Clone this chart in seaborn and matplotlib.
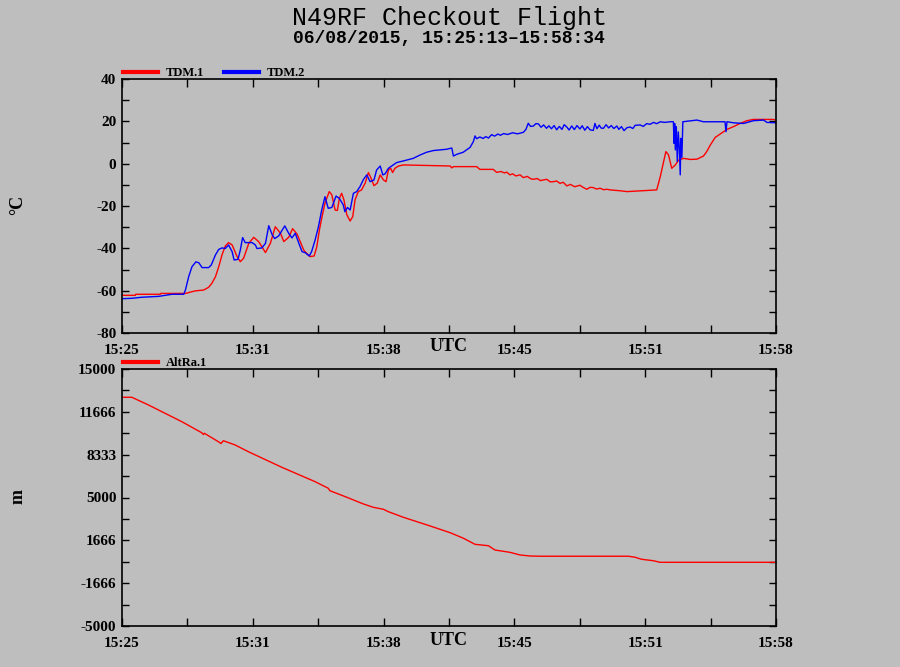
import matplotlib
matplotlib.use("Agg")
import matplotlib.pyplot as plt
import numpy as np
import seaborn as sns

# seconds since 15:25:13 (flight window 15:25:13 - 15:58:34)
tdm1_t = [0, 41, 42, 117, 118, 194, 224, 250, 265, 275, 286, 296, 306, 316, 326, 337,
          352, 362, 372, 388, 403, 418, 439, 454, 469, 485, 495, 510, 522, 536, 556,
          560, 575, 588, 596, 604, 611, 621, 634, 642, 652, 659, 665, 672, 679, 688,
          698, 706, 713, 723, 733, 744, 754, 762, 771, 781, 790, 800, 808, 815, 822,
          828, 835, 846, 861, 917, 1004, 1009, 1014, 1085, 1095, 1136, 1146, 1160,
          1170, 1177, 1187, 1195, 1205, 1218, 1228, 1240, 1250, 1259, 1270, 1280,
          1289, 1300, 1310, 1320, 1330, 1340, 1350, 1361, 1372, 1385, 1401, 1412,
          1422, 1432, 1442, 1452, 1463, 1473, 1483, 1494, 1510, 1524, 1545, 1636,
          1647, 1657, 1664, 1672, 1682, 1693, 1703, 1718, 1738, 1759, 1779, 1789,
          1800, 1815, 1830, 1851, 1871, 1891, 1912, 1932, 1993, 2001]
tdm1_v = [-62.2, -62.2, -61.7, -61.7, -61.3, -61.3, -60.1, -59.7, -58.4, -56.5, -53.4,
          -48.7, -43.1, -38.9, -37.3, -38.4, -43.9, -46.3, -44.7, -37.6, -34.8, -36.8,
          -42.0, -37.6, -29.8, -32.9, -36.8, -34.8, -30.7, -33.4, -40.8,
          -41.6, -43.9, -43.6, -39.2, -31.3, -25.8, -18.7, -13.2, -14.7, -21.9, -22.1,
          -16.4, -14.0, -17.1, -24.2, -27.1, -25.0, -17.1, -13.2, -12.4, -9.2, -4.2,
          -6.9, -10.4, -9.2, -5.3, -7.7, -8.5, -3.0, -2.2, -4.2, -2.2, -1.1, -0.6,
          -0.8, -1.1, -2.0, -1.4, -1.4, -2.7, -2.7, -4.1, -3.7, -4.4, -4.0, -5.3,
          -4.8, -5.8, -5.3, -6.6, -6.0, -7.1, -7.4, -7.0, -8.0, -7.7, -7.4, -8.6,
          -8.5, -8.2, -9.3, -8.8, -10.5, -9.8, -10.9, -10.2, -11.3, -12.1, -11.2,
          -11.3, -12.0, -11.6, -12.3, -12.1, -12.4, -12.6, -12.8, -13.2, -12.4,
          -6.1, 0.9, 5.7, 4.2, -2.2, -0.6, 1.7, 2.5, 2.0, 2.1, 3.6, 5.7, 8.8, 12.4,
          14.0, 16.2, 17.5, 19.0, 20.3, 20.9, 20.9, 20.6]

tdm2_t = [0, 31, 61, 112, 153, 189, 194, 204, 214, 226, 235, 245, 265, 273, 286, 296,
          306, 316, 326, 337, 343, 355, 362, 369, 377, 398, 408, 413, 428, 439, 449,
          459, 467, 479, 498, 510, 520, 530, 541, 551, 560, 573, 580, 591, 601, 611,
          621, 631, 642, 655, 665, 677, 682, 690, 698, 708, 718, 728, 739, 749, 759,
          771, 779, 790, 798, 805, 815, 830, 840, 861, 891, 912, 932, 953, 973, 993,
          1009, 1014, 1024, 1044, 1065, 1075, 1080, 1085, 1095, 1105, 1113, 1121,
          1131, 1140, 1150, 1158, 1167, 1180, 1195, 1210, 1228, 1236, 1243, 1250,
          1259, 1266, 1274, 1282, 1290, 1299, 1306, 1314, 1322, 1330, 1338, 1346,
          1353, 1361, 1368, 1376, 1384, 1392, 1401, 1408, 1416, 1424, 1432, 1442,
          1447, 1453, 1460, 1466, 1473, 1481, 1489, 1497, 1505, 1514, 1520, 1528,
          1536, 1545, 1555, 1563, 1570, 1585, 1595, 1605, 1616, 1626, 1636, 1647,
          1660, 1677, 1687, 1689, 1691, 1693, 1696, 1699, 1702, 1705, 1708, 1710,
          1713, 1716, 1759, 1779, 1845, 1848, 1851, 1871, 1902, 1932, 1963, 1973, 2001]
tdm2_v = [-63.8, -63.6, -63.1, -62.7, -61.7, -61.7, -59.7, -53.4, -48.7, -46.4, -46.8,
          -49.1, -49.1, -47.9, -43.1, -40.5, -39.8, -40.1, -38.4, -41.6, -45.5, -45.2,
          -40.8, -34.9, -37.3, -37.3, -38.4, -40.1, -39.8, -37.6, -29.3, -33.4, -35.4,
          -34.2, -29.4, -32.9, -35.1, -32.9, -37.6, -41.6, -42.0, -43.6, -41.6, -36.0,
          -29.8, -21.9, -15.6, -21.1, -20.7, -15.3, -16.4, -19.5, -22.7, -20.7, -21.9,
          -14.0, -13.2, -10.9, -7.4, -5.3, -8.5, -7.7, -3.0, -1.1, -5.3, -4.8, -2.2,
          -0.6, 0.5, 1.3, 2.5, 4.1, 5.4, 6.2, 6.5, 6.8, 7.4, 3.6, 4.4, 5.4, 7.7, 10.4,
          13.1, 11.8, 12.6, 11.9, 12.8, 12.1, 13.7, 13.0, 14.0, 13.4, 14.2, 13.8,
          14.6, 14.1, 14.8, 16.2, 19.1, 17.6, 17.8, 18.9, 18.8, 17.2, 18.3, 16.7,
          17.9, 16.5, 18.0, 16.0, 17.6, 16.2, 18.4, 17.3, 15.9, 17.8, 16.1, 18.0,
          16.4, 17.9, 15.8, 17.5, 16.0, 15.7, 19.0, 16.5, 18.2, 16.8, 16.7, 18.4,
          16.9, 18.0, 16.6, 17.8, 16.2, 17.5, 15.6, 17.0, 17.3, 16.6, 18.1, 18.3,
          17.6, 18.9, 18.6, 19.5, 18.9, 19.8, 19.5, 19.8, 19.8, 9.6, 19.0, 6.5, 17.5,
          1.0, 15.0, 8.0, -5.3, 12.0, 3.0, 19.8, 20.6, 19.8, 19.8, 15.1, 19.8, 19.3,
          19.0, 20.3, 20.6, 19.5, 19.3]

alt_t = [1, 30, 81, 183, 244, 249, 252, 295, 303, 310, 346, 387, 489, 591, 631, 636,
         688, 739, 769, 800, 815, 861, 943, 1004, 1045, 1080, 1121, 1141, 1187, 1218,
         1249, 1279, 1549, 1570, 1590, 1626, 1646, 2001]
alt_v = [12800, 12800, 12200, 10900, 10040, 9900, 10000, 9340, 9200, 9420, 9090, 8560,
         7350, 6230, 5720, 5530, 5015, 4494, 4237, 4081, 3895, 3459, 2782, 2261, 1824,
         1357, 1248, 914, 733, 526, 447, 430, 430, 350, 191, 80, -43, -43]

x_ticks = [0, 200.1, 400.2, 600.3, 800.4, 1000.5, 1200.6, 1400.7, 1600.8, 1800.9, 2001]
x_labels = ["15:25", "", "15:31", "", "15:38", "", "15:45", "", "15:51", "", "15:58"]
temp_ticks = [-80, -70, -60, -50, -40, -30, -20, -10, 0, 10, 20, 30, 40]
temp_labels = ["-80", "", "-60", "", "-40", "", "-20", "", "0", "", "20", "", "40"]
alt_ticks = list(np.linspace(-5000, 15000, 13))
alt_labels = ["-5000", "", "-1666", "", "1666", "", "5000", "", "8333", "", "11666", "",
              "15000"]

bg = "#bebebe"
serif = "Liberation Serif"
plt.rcParams["font.family"] = [serif, "DejaVu Serif"]
plt.rcParams["font.weight"] = "bold"

fig = plt.figure(figsize=(9, 6.67), dpi=100, facecolor=bg)
ax1 = fig.add_axes([122 / 900, 1 - 333 / 667, 654 / 900, 254 / 667])
ax2 = fig.add_axes([122 / 900, 1 - 626 / 667, 654 / 900, 257 / 667])

sns.lineplot(x=tdm1_t, y=tdm1_v, ax=ax1, color="#ff0000", lw=1.0, label="TDM.1",
             estimator=None)
sns.lineplot(x=tdm2_t, y=tdm2_v, ax=ax1, color="#0000ff", lw=1.0, label="TDM.2",
             estimator=None)
sns.lineplot(x=alt_t, y=alt_v, ax=ax2, color="#ff0000", lw=1.0, label="AltRa.1",
             estimator=None)

for ax, yt, yl, ylim in [(ax1, temp_ticks, temp_labels, (-80, 40)),
                         (ax2, alt_ticks, alt_labels, (-5000, 15000))]:
    ax.set_facecolor(bg)
    ax.set_xlim(0, 2001)
    ax.set_ylim(*ylim)
    ax.set_xticks(x_ticks)
    ax.set_xticklabels(x_labels)
    ax.set_yticks(yt)
    ax.set_yticklabels(yl)
    ax.set_xlabel("")
    ax.set_ylabel("")
    ax.tick_params(axis="x", direction="in", length=6, width=1, top=True, pad=8,
                   labelsize=11, colors="black")
    ax.tick_params(axis="y", direction="in", length=5, width=1, right=True, pad=4,
                   labelsize=11, colors="black")
    for s in ax.spines.values():
        s.set_color("black")
        s.set_linewidth(1.2)
    ax.text(0.5, -0.055, "UTC", transform=ax.transAxes, ha="center", va="center",
            fontsize=13, fontweight="bold", family=serif)
    leg = ax.legend(loc="lower left", bbox_to_anchor=(0, 0.995), ncol=2, frameon=False,
                    fontsize=9, handlelength=2.8, handletextpad=0.6,
                    columnspacing=1.6, borderaxespad=0.0, borderpad=0.1)
    for line in leg.get_lines():
        line.set_linewidth(3)

fig.text(449 / 900, 1 - 18 / 667, "N49RF Checkout Flight", ha="center", va="center",
         fontsize=18, family="Liberation Mono", fontweight="normal")
fig.text(449 / 900, 1 - 39 / 667, "06/08/2015, 15:25:13\u201315:58:34", ha="center",
         va="center", fontsize=13, family="Liberation Mono", fontweight="bold")
fig.text(18 / 900, 1 - 205 / 667, "\u00b0C", rotation=90, ha="center", va="center",
         fontsize=13, fontweight="bold")
fig.text(18 / 900, 1 - 497 / 667, "m", rotation=90, ha="center", va="center",
         fontsize=13, fontweight="bold")

fig.savefig("out.png", dpi=100, facecolor=bg)
